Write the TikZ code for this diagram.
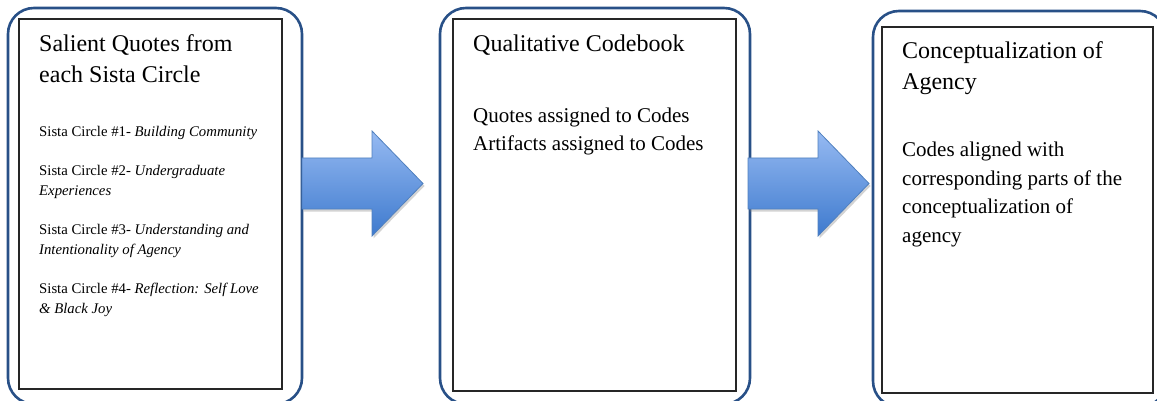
\documentclass[tikz,border=0pt]{standalone}
\usepackage{fontspec}
\setmainfont{Liberation Serif}
\usepackage{xcolor}
\usetikzlibrary{shadows}

\definecolor{frameblue}{RGB}{40,80,135}
\definecolor{arrowtop}{RGB}{150,186,242}
\definecolor{arrowbot}{RGB}{62,122,206}
\definecolor{arrowline}{RGB}{80,128,190}

\begin{document}
\begin{tikzpicture}[
  x=1pt, y=-1pt,
  frame/.style={rectangle, draw=frameblue, line width=2.6pt, rounded corners=26pt,
    inner sep=0pt},
  panel/.style={rectangle, draw=black!85, line width=1.3pt, inner sep=0pt, fill=white},
  title/.style={anchor=base west, align=left, inner sep=0pt,
    font=\fontsize{24}{31}\selectfont},
  body/.style={anchor=base west, align=left, inner sep=0pt,
    font=\fontsize{21}{28.5}\selectfont},
  small/.style={anchor=base west, align=left, inner sep=0pt,
    font=\fontsize{14.75}{19.6}\selectfont},
  blockarrow/.style={draw=arrowline, line width=0.8pt, top color=arrowtop,
    bottom color=arrowbot, line join=miter,
    drop shadow={shadow xshift=1.5pt, shadow yshift=-2.5pt, opacity=0.35}}
]
\clip (0,0) rectangle (1157,401);

% outer frames
\node[frame, minimum width=294pt, minimum height=396pt] (quotesF) at (155,206) {};
\node[frame, minimum width=310pt, minimum height=396pt] (codebookF) at (595,206) {};
\node[frame, minimum width=293pt, minimum height=396pt] (agencyF) at (1019.5,209) {};

% inner panels
\node[panel, minimum width=263pt, minimum height=370pt] (quotes) at (150.5,204) {};
\node[panel, minimum width=283pt, minimum height=372pt] (codebook) at (594.5,205) {};
\node[panel, minimum width=271pt, minimum height=366pt] (agency) at (1017.5,210) {};

% block arrows
\foreach \ax/\nm in {302/one, 748/two} {
  \draw[blockarrow] (\ax,158) -- (\ax+70,158) -- (\ax+70,131) -- (\ax+121,183.5)
    -- (\ax+70,236) -- (\ax+70,209) -- (\ax,209) -- cycle;
}

% base anchor sits on the last line
\node[title] (quotesT) at (39,83) {Salient Quotes from\\each Sista Circle};
\node[small] (quotesB) at (39,313) {Sista Circle \#1- \textit{Building Community}\\[19.6pt]
  Sista Circle \#2- \textit{Undergraduate}\\\textit{Experiences}\\[19.6pt]
  Sista Circle \#3- \textit{Understanding and}\\\textit{Intentionality of Agency}\\[19.6pt]
  Sista Circle \#4- \textit{Reflection: Self Love}\\\textit{\& Black Joy}};

\node[title] (codebookT) at (473,52) {Qualitative Codebook};
\node[body] (codebookB) at (473,151) {Quotes assigned to Codes\\Artifacts assigned to Codes};

\node[title] (agencyT) at (902,90) {Conceptualization of\\Agency};
\node[body] (agencyB) at (902,242) {Codes aligned with\\corresponding parts of the\\conceptualization of\\agency};
\end{tikzpicture}
\end{document}
